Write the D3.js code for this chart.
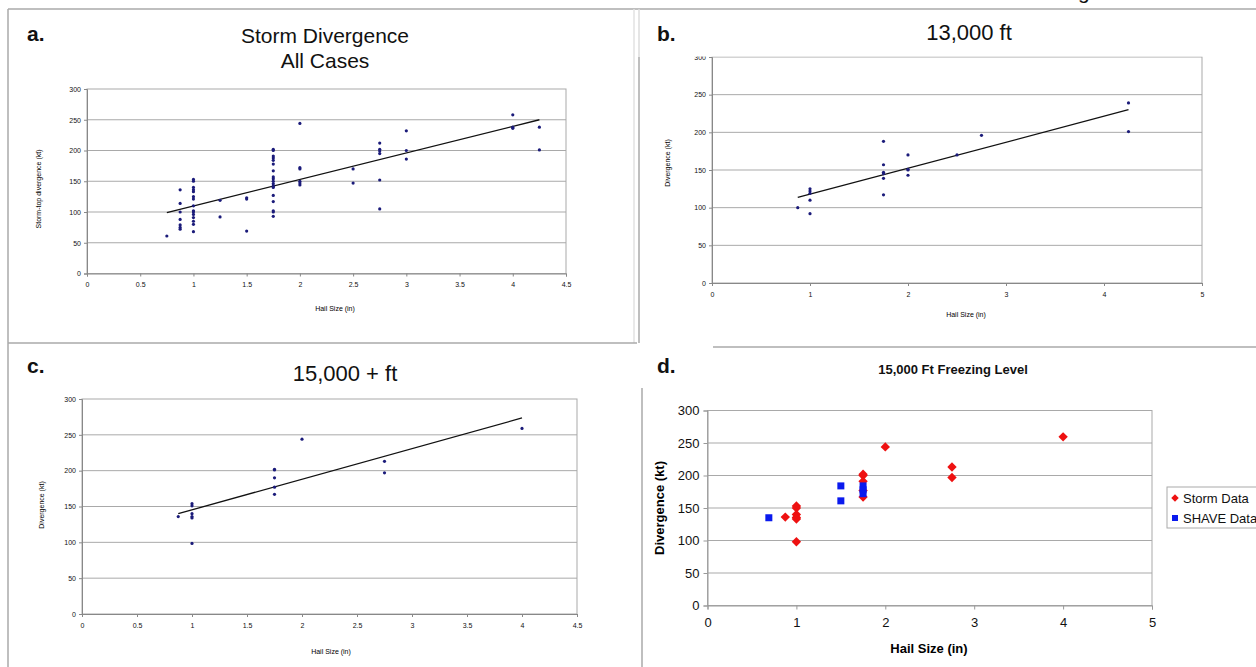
<!DOCTYPE html>
<html><head><meta charset="utf-8">
<script src="https://cdn.jsdelivr.net/npm/d3@7"></script>
<style>body{margin:0;background:#fff}svg{display:block;font-family:"Liberation Sans",Arial,sans-serif}</style>
</head><body><svg id="c" width="1256" height="667"></svg>
<script>
// ---------- data ----------
const hailA = [0.75,
  0.875,0.875,0.875,0.875,0.875,0.875,0.875,
  1,1,1,1,1,1,1,1,1,1,1,1,1,1,1,
  1.25,1.25, 1.5,1.5,1.5,
  1.75,1.75,1.75,1.75,1.75,1.75,1.75,1.75,1.75,1.75,1.75,1.75,1.75,1.75,1.75,1.75,1.75,1.75,
  2,2,2,2,2,2, 2.5,2.5, 2.75,2.75,2.75,2.75,2.75,2.75, 3,3,3, 4,4,4, 4.25,4.25];
const divA = [61,
  136,114,100,88,79,75,72,
  153,150,140,136,133,125,121,110,102,100,96,91,85,80,68,
  119,92, 123,121,69,
  202,200,191,188,184,178,167,157,154,150,146,142,140,127,117,102,100,93,
  244,172,170,150,147,144, 170,147, 212,202,199,195,152,105, 232,200,186, 258,238,236, 238,201];
const trendA = [[0.75,99],[4.25,250]];

const hailB = [0.875, 1,1,1,1,1, 1.75,1.75,1.75,1.75,1.75,1.75, 2,2,2,2, 2.5, 2.75, 4.25,4.25];
const divB  = [100, 125,122,119,110,92, 188,157,147,145,139,117, 170,151,150,143, 170, 196, 239,201];
const trendB = [[0.875,113.5],[4.25,230]];

const hailC = [0.875, 1,1,1,1,1,1, 1.75,1.75,1.75,1.75,1.75, 2, 2.75,2.75, 4];
const divC  = [136, 154,151,140,136,134,98.5, 202,201,190,177,167, 244, 213,197, 259];
const trendC = [[0.875,140],[4,273.5]];

const stormHail = [0.875, 1,1,1,1,1,1, 1.75,1.75,1.75,1.75,1.75, 2, 2.75,2.75, 4];
const stormDiv  = [136, 153,150,140,135.5,133,98, 202,200,191,177,167, 244, 213,197, 259.5];
const shaveHail = [0.69, 1.5,1.5, 1.75,1.75,1.75];
const shaveDiv  = [135, 184,161, 184,178,172];

const yTicks = [0,50,100,150,200,250,300];
const xTicksHalf = [0,0.5,1,1.5,2,2.5,3,3.5,4,4.5];
const xTicksWhole = [0,1,2,3,4,5];

// ---------- drawing ----------
const svg = d3.select("#c");
const FONT = '"Liberation Sans",Arial,sans-serif';
const BORDER = "#aaaaaa";

function panel(g, o) {
  const x = d3.scaleLinear().domain([0, o.xmax]).range([o.l, o.r]);
  const y = d3.scaleLinear().domain([0, 300]).range([o.b, o.t]);
  g.append("g").selectAll("line").data(yTicks.filter(v => v > 0 && v < 300)).join("line")
    .attr("x1", o.l).attr("x2", o.r).attr("y1", d => y(d)).attr("y2", d => y(d))
    .attr("stroke", o.grid).attr("stroke-width", 1);
  g.append("rect").attr("x", o.l).attr("y", o.t).attr("width", o.r - o.l).attr("height", o.b - o.t)
    .attr("fill", "none").attr("stroke", o.grid).attr("stroke-width", 1);
  const ya = g.append("g").attr("transform", `translate(${o.l},0)`)
    .call(d3.axisLeft(y).tickValues(yTicks).tickSize(o.tick).tickPadding(o.pad));
  const xa = g.append("g").attr("transform", `translate(0,${o.b})`)
    .call(d3.axisBottom(x).tickValues(o.xt).tickSize(o.tick).tickPadding(o.padx).tickFormat(d3.format("")));
  [ya, xa].forEach(a => {
    a.select(".domain").attr("stroke", o.axis);
    a.selectAll(".tick line").attr("stroke", o.axis);
    a.selectAll("text").attr("font-family", FONT).attr("font-size", o.fs).attr("fill", "#111");
  });
  if (o.trend) {
    g.append("line").attr("x1", x(o.trend[0][0])).attr("y1", y(o.trend[0][1]))
      .attr("x2", x(o.trend[1][0])).attr("y2", y(o.trend[1][1]))
      .attr("stroke", "#111").attr("stroke-width", 1.3);
  }
  if (o.hx) {
    g.append("g").selectAll("circle").data(o.hx.map((v, i) => [v, o.dy[i]])).join("circle")
      .attr("cx", d => x(d[0])).attr("cy", d => y(d[1])).attr("r", 1.6).attr("fill", "#1b1b7a");
  }
  g.append("text").attr("x", o.xtx).attr("y", o.xty).attr("text-anchor", "middle")
    .attr("font-size", o.tfs).attr("font-weight", o.tfw).text("Hail Size (in)");
  g.append("text").attr("transform", `translate(${o.ytx},${o.yty}) rotate(-90)`)
    .attr("text-anchor", "middle").attr("font-size", o.tfs).attr("font-weight", o.tfw).text(o.ytitle);
  return {x, y};
}

// borders
const bl = [
  [8, 9, 1256, 9, BORDER], [8, 9, 8, 667, BORDER], [634, 9, 634, 343, "#e2e2e2"], [639, 9, 639, 57, "#dcdcdc"],
  [639, 57, 639, 343, BORDER], [8, 343, 637, 343, BORDER], [713, 347, 1256, 347, BORDER], [642, 388, 642, 667, BORDER]
];
svg.append("g").selectAll("line").data(bl).join("line")
  .attr("x1", d => d[0]).attr("y1", d => d[1]).attr("x2", d => d[2]).attr("y2", d => d[3])
  .attr("stroke", d => d[4]).attr("stroke-width", 1.5);

// cropped caption fragment at top edge (as in the source image)
svg.append("text").attr("x", 1078).attr("y", -1.5).attr("font-size", 21).attr("fill", "#111").text("g");

[["a.", 27, 41], ["b.", 657, 41], ["c.", 27, 373], ["d.", 657, 373]].forEach(p =>
  svg.append("text").attr("x", p[1]).attr("y", p[2]).attr("font-size", 21).attr("font-weight", "bold").attr("fill", "#111").text(p[0]));

const small = {tick: 3, pad: 3, padx: 6, fs: 7, tfs: 7, tfw: "normal", grid: "#a9a9a9", axis: "#888"};

// Panel a
const ga = svg.append("g");
panel(ga, Object.assign({}, small, {l: 87, r: 566, t: 89, b: 273.5, xmax: 4.5, xt: xTicksHalf,
  hx: hailA, dy: divA, trend: trendA, xtx: 335, xty: 311, ytx: 41, yty: 189, ytitle: "Storm-top divergence (kt)"}));
ga.append("text").attr("x", 325).attr("y", 43).attr("text-anchor", "middle").attr("font-size", 21).attr("fill", "#111").text("Storm Divergence");
ga.append("text").attr("x", 325).attr("y", 68).attr("text-anchor", "middle").attr("font-size", 21).attr("fill", "#111").text("All Cases");

// Panel b (clipped at top like the source)
svg.append("clipPath").attr("id", "clipB").append("rect").attr("x", 640).attr("y", 56.5).attr("width", 616).attr("height", 290);
const gb = svg.append("g").attr("clip-path", "url(#clipB)");
panel(gb, Object.assign({}, small, {l: 712, r: 1202, t: 57, b: 283, xmax: 5, xt: xTicksWhole,
  hx: hailB, dy: divB, trend: trendB, xtx: 966, xty: 317, ytx: 670, yty: 163, ytitle: "Divergence (kt)"}));
svg.append("text").attr("x", 969).attr("y", 40).attr("text-anchor", "middle").attr("font-size", 22).attr("fill", "#111").text("13,000 ft");

// Panel c
const gc = svg.append("g");
panel(gc, Object.assign({}, small, {l: 82, r: 577, t: 399, b: 614, xmax: 4.5, xt: xTicksHalf,
  hx: hailC, dy: divC, trend: trendC, xtx: 331, xty: 654, ytx: 44, yty: 505, ytitle: "Divergence (kt)"}));
gc.append("text").attr("x", 345).attr("y", 381).attr("text-anchor", "middle").attr("font-size", 22).attr("fill", "#111").text("15,000 + ft");

// Panel d
const gd = svg.append("g");
const sd = panel(gd, {l: 707.5, r: 1152, t: 410.5, b: 605.5, xmax: 5, xt: xTicksWhole, tick: 4, pad: 4, padx: 8,
  fs: 13, tfs: 13, tfw: "bold", grid: "#a9a9a9", axis: "#999",
  xtx: 929, xty: 653, ytx: 664, yty: 508, ytitle: "Divergence (kt)"});
gd.append("text").attr("x", 953).attr("y", 374).attr("text-anchor", "middle").attr("font-size", 13).attr("font-weight", "bold").attr("fill", "#111").text("15,000 Ft Freezing Level");
const diamond = d3.symbol().type(d3.symbolDiamond2).size(56);
gd.append("g").selectAll("path").data(stormHail.map((v, i) => [v, stormDiv[i]])).join("path")
  .attr("d", diamond).attr("transform", d => `translate(${sd.x(d[0])},${sd.y(d[1])})`).attr("fill", "#ee1111");
gd.append("g").selectAll("rect").data(shaveHail.map((v, i) => [v, shaveDiv[i]])).join("rect")
  .attr("x", d => sd.x(d[0]) - 3.5).attr("y", d => sd.y(d[1]) - 3.5).attr("width", 7).attr("height", 7).attr("fill", "#0a1aee");
const lg = gd.append("g");
lg.append("rect").attr("x", 1167).attr("y", 487).attr("width", 100).attr("height", 41).attr("fill", "#fff").attr("stroke", "#aaa");
lg.append("path").attr("d", d3.symbol().type(d3.symbolDiamond2).size(36)).attr("transform", "translate(1175,498)").attr("fill", "#ee1111");
lg.append("rect").attr("x", 1172).attr("y", 515).attr("width", 6).attr("height", 6).attr("fill", "#0a1aee");
lg.append("text").attr("x", 1183).attr("y", 503).attr("font-size", 13).attr("fill", "#111").text("Storm Data");
lg.append("text").attr("x", 1183).attr("y", 523).attr("font-size", 13).attr("fill", "#111").text("SHAVE Data");
</script></body></html>
